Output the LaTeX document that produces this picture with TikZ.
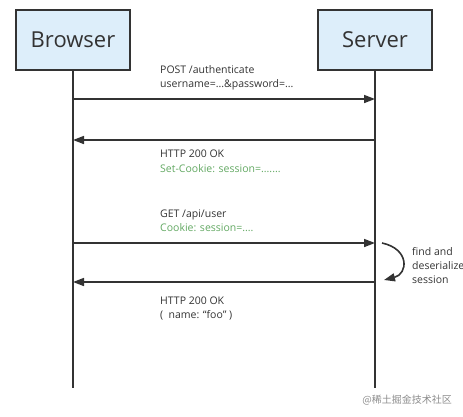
\documentclass[tikz,border=0pt]{standalone}
\usepackage{fontspec}
\setmainfont{Open Sans}
\newfontfamily\cjkfont{Noto Sans CJK SC}
\usetikzlibrary{arrows.meta,positioning,calc}
\definecolor{boxfill}{HTML}{DDEEFA}
\definecolor{linegray}{HTML}{333333}
\definecolor{cookie}{HTML}{62A862}

\begin{document}
\begin{tikzpicture}[x=1pt,y=-1pt,
  actor/.style={draw=linegray,line width=1.5pt,fill=boxfill,minimum width=114pt,minimum height=60pt,
    font=\fontsize{22}{26}\selectfont,text=linegray},
  lifeline/.style={linegray,line width=1.6pt},
  msg/.style={linegray,line width=1.6pt,-{Triangle[length=11pt,width=8pt]}},
  lbl/.style={anchor=base west,inner sep=0pt,font=\fontsize{10.5}{12}\selectfont,text=linegray},
  cookielbl/.style={lbl,text=cookie}]
  \useasboundingbox (0,0) rectangle (463,416);
  % Actors
  \node[actor] (browser) at (73,40) {Browser};
  \node[actor] (server) at (375,40) {Server};
  % Lifelines
  \coordinate (browser-end) at (browser.south |- 0,388);
  \coordinate (server-end) at (server.south |- 0,388);
  \draw[lifeline] (browser.south) -- (browser-end);
  \draw[lifeline] (server.south) -- (server-end);
  % Message points on the lifelines
  \foreach \n/\y in {1/99,2/140,3/243,4/282} {
    \coordinate (b\n) at (browser.south |- 0,\y);
    \coordinate (s\n) at (server.south |- 0,\y);
  }
  % Messages
  \draw[msg] (b1) -- (s1);
  \draw[msg] (s2) -- (b2);
  \draw[msg] (b3) -- (s3);
  \draw[msg] (s4) -- (b4);
  % Labels
  \node[lbl] (post) at (160,73) {POST /authenticate};
  \node[lbl] (creds) at (160,87) {username=...\&password=...};
  \node[lbl] (ok1) at (160,157) {HTTP 200 OK};
  \node[cookielbl] (setcookie) at (160,172) {Set-Cookie: session=.......};
  \node[lbl] (get) at (160,217) {GET /api/user};
  \node[cookielbl] (sendcookie) at (160,231) {Cookie: session=....};
  \node[lbl] (ok2) at (160,304) {HTTP 200 OK};
  \node[lbl] (body) at (160,318) {(\enspace name: “foo” )};
  % Server side lookup
  \coordinate (turn-start) at ($(s3)+(7,0)$);
  \coordinate (turn-end) at ($(s4)+(9,-2)$);
  \draw[msg] (turn-start) .. controls (410,249) and (408,274) .. (turn-end);
  \node[lbl] (find1) at (412,255) {find and};
  \node[lbl] (find2) at (412,269) {deserialize};
  \node[lbl] (find3) at (412,283) {session};
  % Source mark
  \node[anchor=base east,inner sep=0pt,text=black!45,font=\cjkfont\fontsize{10}{12}\selectfont] (mark) at (452,403) {@稀土掘金技术社区};
\end{tikzpicture}
\end{document}
